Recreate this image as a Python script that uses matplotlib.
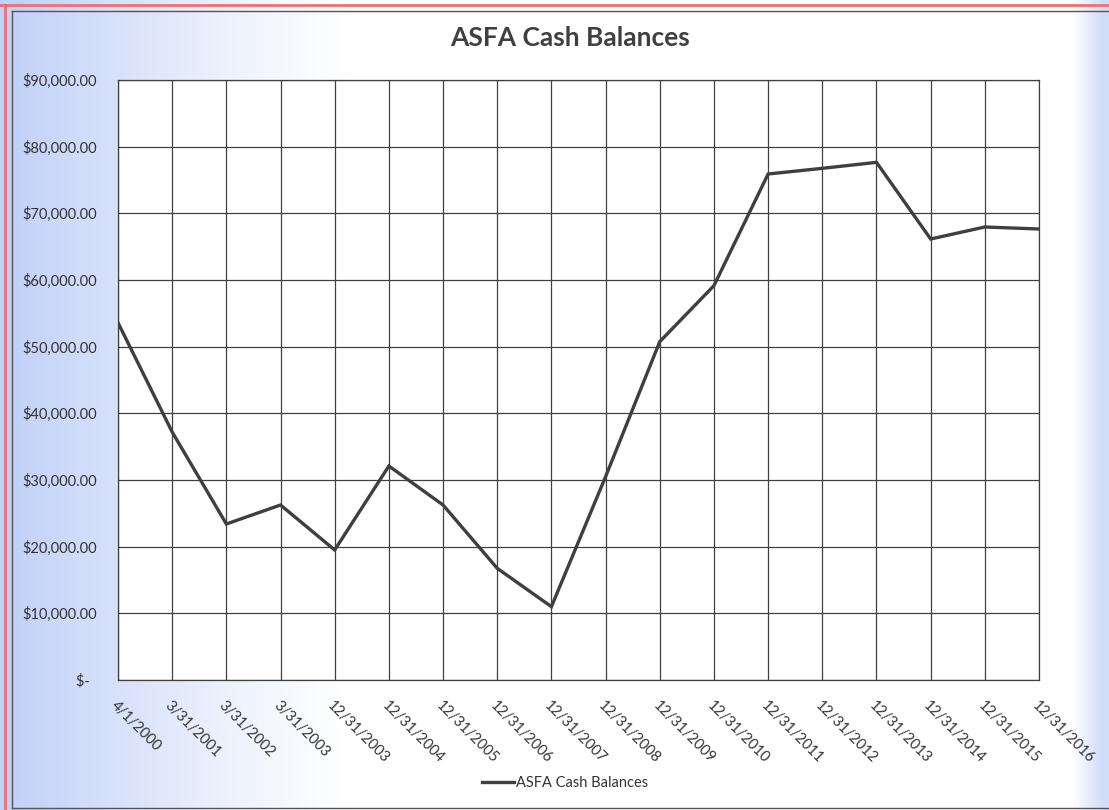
import numpy as np
import matplotlib
matplotlib.use("Agg")
import matplotlib.pyplot as plt
from matplotlib.lines import Line2D
from matplotlib.ticker import FuncFormatter

plt.rcParams['font.family'] = ['Lato', 'DejaVu Sans']

# Data
dates = ['4/1/2000', '3/31/2001', '3/31/2002', '3/31/2003', '12/31/2003',
         '12/31/2004', '12/31/2005', '12/31/2006', '12/31/2007', '12/31/2008',
         '12/31/2009', '12/31/2010', '12/31/2011', '12/31/2012', '12/31/2013',
         '12/31/2014', '12/31/2015', '12/31/2016']
balances = [53600, 37200, 23400, 26250, 19500, 32100, 26250, 16750, 11000,
            30500, 50750, 59150, 75900, 76750, 77650, 66150, 67950, 67650]
y_ticks = [0, 10000, 20000, 30000, 40000, 50000, 60000, 70000, 80000, 90000]

W, H = 1109, 810
fig = plt.figure(figsize=(W / 100, H / 100), dpi=100)

# background: soft blue fade on the left and right edges
bg = fig.add_axes([0, 0, 1, 1], zorder=-10)
xs = np.arange(W)
left = np.clip(1 - (xs - 12) / 340.0, 0, 1) ** 1.2
right = np.clip((xs - 1072) / 30.0, 0, 1)
amt = np.maximum(left, right * 0.75)
blue = np.array([0.76, 0.82, 0.97])
row = 1 - amt[:, None] * (1 - blue[None, :])
img = np.repeat(row[None, :, :], 2, axis=0)
bg.imshow(img, aspect='auto', extent=[0, 1, 0, 1])
bg.set_axis_off()

# frame lines (red outer edge, dark inner border)
fig.add_artist(Line2D([0, 1], [1 - 5 / H, 1 - 5 / H], color='#f07070', lw=2))
fig.add_artist(Line2D([5 / W, 5 / W], [0, 1 - 5 / H], color='#f07070', lw=2))
fig.add_artist(Line2D([12 / W, 1], [1 - 11 / H, 1 - 11 / H], color='#555555', lw=1))
fig.add_artist(Line2D([12 / W, 12 / W], [2 / H, 1 - 11 / H], color='#555555', lw=1))
fig.add_artist(Line2D([12 / W, 1], [2 / H, 2 / H], color='#555555', lw=1))

ax = fig.add_axes([118 / W, (H - 680) / H, (1039 - 118) / W, 600 / H])
ax.set_facecolor('white')
x = np.arange(len(dates))
ax.plot(x, balances, color='#3f3f3f', lw=2.4, solid_joinstyle='miter',
        label='ASFA Cash Balances', zorder=3)

ax.set_xlim(0, len(dates) - 1)
ax.set_ylim(0, 90000)
ax.set_yticks(y_ticks)
ax.yaxis.set_major_formatter(FuncFormatter(lambda v, p: '$-  ' if v == 0 else f'${v:,.2f}'))
ax.set_xticks(x)
ax.set_xticklabels(dates, rotation=-45, ha='left', va='top', rotation_mode='anchor')
ax.tick_params(axis='both', length=0, labelsize=10.5, colors='#333333')
ax.tick_params(axis='y', pad=15)
ax.tick_params(axis='x', pad=13)
ax.grid(True, color='#404040', lw=0.9)
for s in ax.spines.values():
    s.set_color('#404040')
    s.set_linewidth(0.9)

fig.text(570 / W, 1 - 38 / H, 'ASFA Cash Balances', ha='center', va='center',
         fontsize=19, fontweight='bold', color='#404040')

fig.legend(loc='center', bbox_to_anchor=(565 / W, 1 - 783 / H), frameon=False,
           fontsize=10.5, handlelength=2.2, handletextpad=0.1, labelcolor='#333333')

fig.savefig('out.png', dpi=100)
